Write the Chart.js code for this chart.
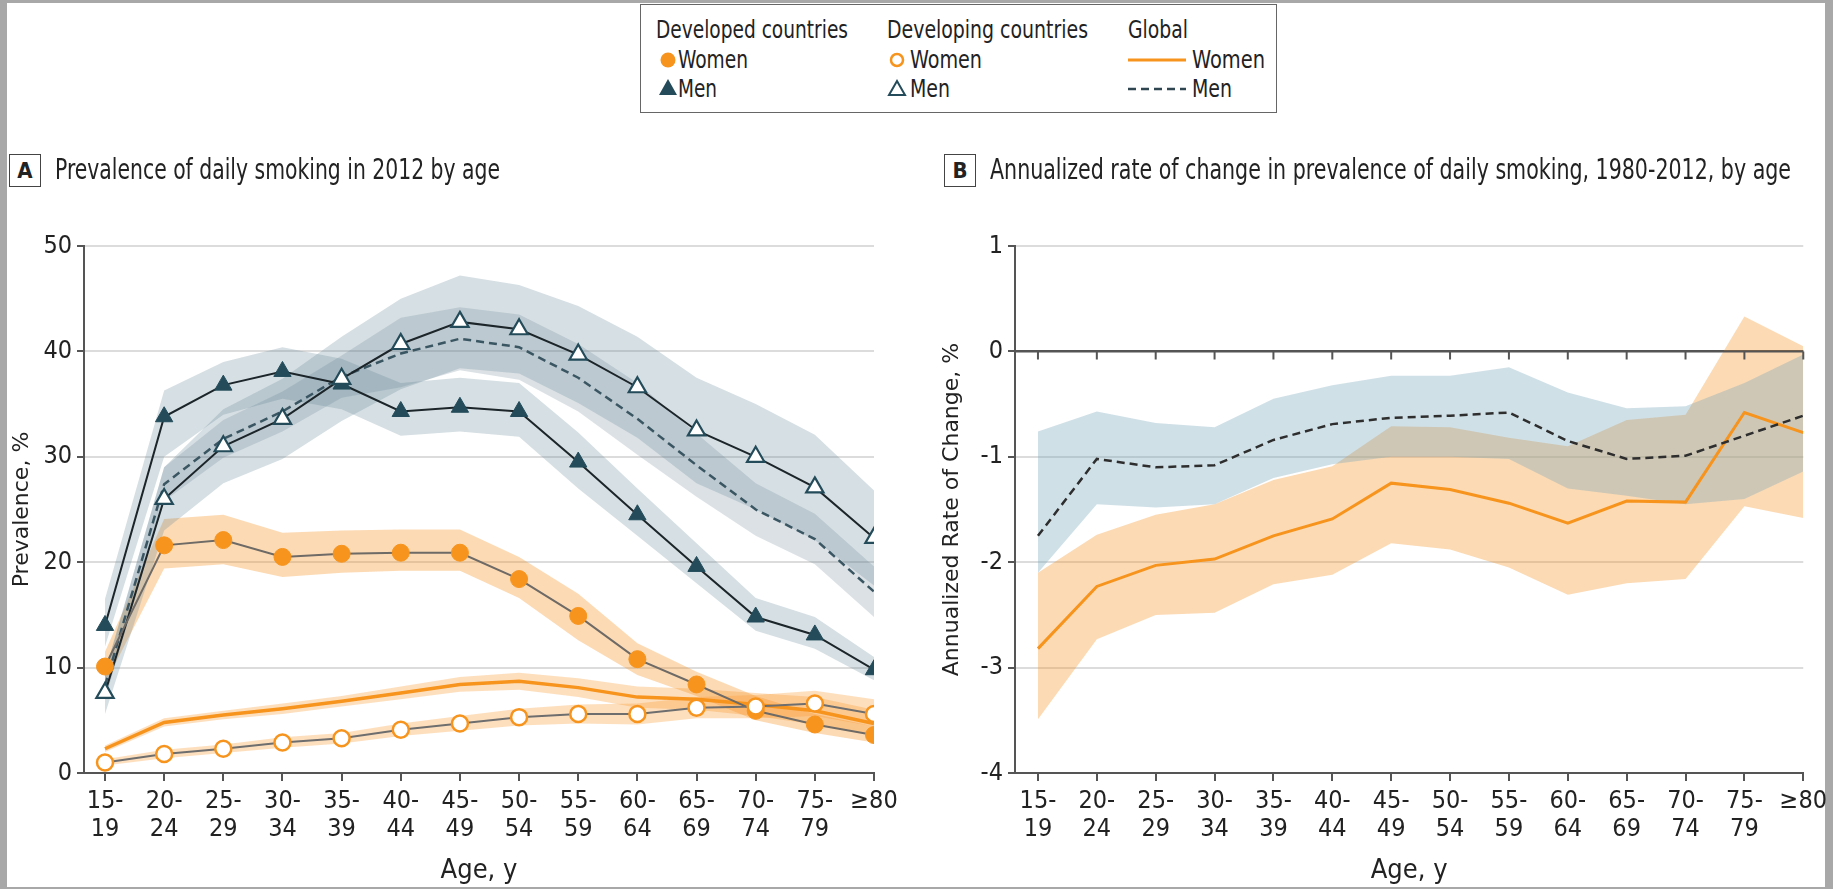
<!DOCTYPE html>
<html>
<head>
<meta charset="utf-8">
<script src="https://cdn.jsdelivr.net/npm/chart.js@4.4.1/dist/chart.umd.min.js"></script>
<style>
  html, body { margin: 0; padding: 0; width: 1833px; height: 889px; overflow: hidden; background: #a8a8a8; }
  #sheet { position: absolute; left: 7px; top: 3px; width: 1818px; height: 884px; background: #fff; }
  canvas { position: absolute; top: 0; }
  .txt { position: absolute; white-space: nowrap; color: #222; font-family: var(--narrow); transform-origin: left center; }
  .tag { position: absolute; top: 154px; width: 30px; height: 31px; border: 1.5px solid #444; font-family: var(--narrow);
         font-weight: bold; font-size: 22px; line-height: 31px; text-align: center; color: #222; background: #fff; }
  .ptitle { top: 152px; font-size: 28px; line-height: 36px; }
  #legend { position: absolute; left: 640px; top: 4px; width: 637px; height: 109px; box-sizing: border-box; border: 1.5px solid #666; background: #fff; }
  .lg { font-size: 24px; line-height: 30px; }
  svg { position: absolute; overflow: visible; }
</style>
</head>
<body>
<div id="sheet"></div>
<canvas id="cA" width="930" height="889" style="left:0"></canvas>
<canvas id="cB" width="903" height="889" style="left:930px"></canvas>

<div class="tag" style="left:9px">A</div>
<div class="txt ptitle" style="left:55px" data-w="445">Prevalence of daily smoking in 2012 by age</div>
<div class="tag" style="left:944px">B</div>
<div class="txt ptitle" style="left:990px" data-w="801">Annualized rate of change in prevalence of daily smoking, 1980-2012, by age</div>

<div id="legend"></div>
<div class="txt lg" style="left:656px;top:15px" data-w="192">Developed countries</div>
<div class="txt lg" style="left:678px;top:45px" data-w="70">Women</div>
<div class="txt lg" style="left:678px;top:74px" data-w="39">Men</div>
<div class="txt lg" style="left:887px;top:15px" data-w="201">Developing countries</div>
<div class="txt lg" style="left:910px;top:45px" data-w="72">Women</div>
<div class="txt lg" style="left:910px;top:74px" data-w="40">Men</div>
<div class="txt lg" style="left:1128px;top:15px" data-w="60">Global</div>
<div class="txt lg" style="left:1192px;top:45px" data-w="73">Women</div>
<div class="txt lg" style="left:1192px;top:74px" data-w="40">Men</div>
<svg width="1833" height="120" style="left:0;top:0">
  <circle cx="668" cy="60" r="7.5" fill="#f7941d"/>
  <polygon points="668,79 677,95 659,95" fill="#234b5a"/>
  <circle cx="897" cy="60" r="6" fill="#fff" stroke="#f7941d" stroke-width="2.5"/>
  <polygon points="897,81 905,95 889,95" fill="#fff" stroke="#234b5a" stroke-width="2"/>
  <line x1="1128" y1="60" x2="1186" y2="60" stroke="#f7941d" stroke-width="3"/>
  <line x1="1128" y1="89" x2="1186" y2="89" stroke="#2f4550" stroke-width="2.5" stroke-dasharray="8,5"/>
</svg>

<script>
// pick a condensed font if the machine has one
function fontAvailable(name) {
    const c = document.createElement('canvas').getContext('2d');
    const s = 'Developed countries 1980-2012';
    c.font = '40px monospace';
    const w0 = c.measureText(s).width;
    c.font = "40px '" + name + "', monospace";
    return c.measureText(s).width !== w0;
}
const NARROW = ['Liberation Sans Narrow', 'Arial Narrow', 'DejaVu Sans Condensed', 'Roboto Condensed'].find(fontAvailable) || 'Liberation Sans';
document.documentElement.style.setProperty('--narrow', "'" + NARROW + "', 'Liberation Sans', sans-serif");

// squeeze html labels to the widths they have in the figure
document.querySelectorAll('[data-w]').forEach(el => {
    const w = el.getBoundingClientRect().width;
    el.style.transform = 'scaleX(' + (Number(el.dataset.w) / w) + ')';
});

// ---- data ----
const ageGroups = [['15-', '19'], ['20-', '24'], ['25-', '29'], ['30-', '34'], ['35-', '39'], ['40-', '44'], ['45-', '49'],
                   ['50-', '54'], ['55-', '59'], ['60-', '64'], ['65-', '69'], ['70-', '74'], ['75-', '79'], ['≥80']];

// Panel A: prevalence 2012, %
const devdMen      = [14.0, 33.8, 36.8, 38.1, 36.9, 34.3, 34.7, 34.3, 29.5, 24.5, 19.6, 14.8, 13.1, 9.8];
const devdMenHi    = [16.5, 36.3, 39.0, 40.4, 39.3, 37.0, 37.5, 37.0, 32.3, 27.0, 21.8, 16.6, 14.8, 11.0];
const devdMenLo    = [12.0, 30.0, 34.0, 35.5, 34.5, 32.0, 32.4, 31.9, 27.0, 22.5, 18.0, 13.5, 11.8, 8.8];
const devgMen      = [7.6, 26.0, 31.0, 33.6, 37.4, 40.7, 42.8, 42.1, 39.7, 36.6, 32.5, 30.0, 27.1, 22.3];
const devgMenHi    = [9.6, 29.0, 34.5, 37.4, 41.4, 45.0, 47.2, 46.3, 44.3, 41.4, 37.5, 35.0, 32.1, 26.8];
const devgMenLo    = [5.6, 23.0, 27.5, 29.8, 33.4, 36.4, 38.4, 37.9, 35.1, 31.8, 27.5, 25.0, 22.1, 17.8];
const globMen      = [8.3, 27.4, 31.7, 34.3, 37.6, 39.8, 41.2, 40.4, 37.5, 33.6, 29.2, 25.0, 22.2, 17.2];
const globMenHi    = [9.5, 29.0, 33.5, 36.2, 39.6, 43.2, 44.2, 43.5, 40.7, 37.0, 32.2, 27.5, 24.6, 19.6];
const globMenLo    = [7.0, 25.8, 29.9, 32.4, 35.6, 36.6, 38.2, 37.3, 34.3, 30.2, 26.2, 22.5, 19.8, 14.8];
const devdWomen    = [10.1, 21.6, 22.1, 20.5, 20.8, 20.9, 20.9, 18.4, 14.9, 10.8, 8.4, 5.9, 4.6, 3.6];
const devdWomenHi  = [11.5, 24.1, 24.5, 22.8, 23.0, 23.1, 23.1, 20.5, 17.0, 12.3, 9.6, 7.3, 5.6, 4.4];
const devdWomenLo  = [8.5, 19.4, 19.8, 18.6, 19.0, 19.2, 19.2, 16.6, 12.6, 9.3, 7.3, 5.0, 3.8, 2.9];
const devgWomen    = [1.0, 1.8, 2.3, 2.9, 3.3, 4.1, 4.7, 5.3, 5.6, 5.6, 6.2, 6.3, 6.6, 5.6];
const devgWomenHi  = [1.3, 2.2, 2.7, 3.4, 3.8, 4.7, 5.4, 6.1, 6.5, 6.6, 7.2, 7.4, 7.8, 7.0];
const devgWomenLo  = [0.7, 1.4, 1.9, 2.4, 2.8, 3.5, 4.0, 4.5, 4.7, 4.6, 5.2, 5.2, 5.4, 4.4];
const globWomen    = [2.3, 4.8, 5.5, 6.1, 6.8, 7.6, 8.4, 8.7, 8.1, 7.2, 7.0, 6.5, 5.9, 4.7];
const globWomenHi  = [2.6, 5.2, 5.9, 6.6, 7.3, 8.2, 9.1, 9.5, 9.0, 8.2, 8.0, 7.6, 7.2, 6.0];
const globWomenLo  = [2.0, 4.4, 5.1, 5.6, 6.3, 7.0, 7.7, 7.9, 7.2, 6.2, 6.0, 5.4, 4.6, 3.6];
const prevTicks = [0, 10, 20, 30, 40, 50];

// Panel B: annualized rate of change 1980-2012, %
const rateMen      = [-1.75, -1.02, -1.10, -1.08, -0.84, -0.69, -0.63, -0.61, -0.58, -0.85, -1.02, -0.99, -0.80, -0.61];
const rateMenHi    = [-0.76, -0.57, -0.68, -0.72, -0.45, -0.32, -0.23, -0.23, -0.15, -0.39, -0.54, -0.52, -0.30, -0.03];
const rateMenLo    = [-2.10, -1.45, -1.48, -1.45, -1.20, -1.07, -1.00, -1.00, -1.02, -1.30, -1.37, -1.45, -1.40, -1.14];
const rateWomen    = [-2.82, -2.23, -2.03, -1.97, -1.75, -1.59, -1.25, -1.31, -1.44, -1.63, -1.42, -1.43, -0.58, -0.77];
const rateWomenHi  = [-2.10, -1.74, -1.55, -1.45, -1.22, -1.09, -0.71, -0.72, -0.82, -0.90, -0.65, -0.60, 0.33, 0.05];
const rateWomenLo  = [-3.49, -2.73, -2.50, -2.48, -2.21, -2.12, -1.82, -1.88, -2.05, -2.31, -2.20, -2.16, -1.47, -1.58];
const rateTicks = [-4, -3, -2, -1, 0, 1];

// ---- styling ----
const ORANGE = '#f7941d';
const TEAL = '#234b5a';
const AXIS = '#555';
const GRID = '#dcdcdc';
Chart.defaults.font.family = "'" + NARROW + "', 'Liberation Sans', sans-serif";
Chart.defaults.color = '#222';

const pts = arr => arr.map((v, i) => ({ x: i, y: v }));

function band(hi, lo, color) {
    return [
        { data: pts(hi), fill: '+1', backgroundColor: color, borderWidth: 0, pointRadius: 0, order: 10 },
        { data: pts(lo), fill: false, borderWidth: 0, pointRadius: 0, order: 10 }
    ];
}

function xAxis(min, height) {
    return {
        type: 'linear', min: min, max: ageGroups.length - 1,
        afterBuildTicks: s => { s.ticks = ageGroups.map((g, i) => ({ value: i })); },
        afterFit: s => { s.height = height; },
        ticks: { callback: v => ageGroups[v], font: { size: 25, lineHeight: 1.12 }, padding: 6, maxRotation: 0, autoSkip: false, color: '#222' },
        grid: { drawOnChartArea: false, drawTicks: true, tickLength: 8, tickColor: AXIS, color: AXIS, lineWidth: 2 },
        border: { display: true, color: AXIS, width: 2 },
        title: { display: true, text: 'Age, y', font: { size: 27 }, padding: { bottom: 2 }, color: '#222' }
    };
}

function yAxis(min, max, ticks, width, title, zeroDark) {
    return {
        min: min, max: max,
        afterBuildTicks: s => { s.ticks = ticks.map(v => ({ value: v })); },
        afterFit: s => { s.width = width; },
        ticks: { font: { size: 25 }, padding: 5, color: '#222' },
        grid: {
            color: c => c.tick.value === min ? 'rgba(0,0,0,0)' : (zeroDark && c.tick.value === 0 ? AXIS : GRID),
            lineWidth: 2, drawTicks: true, tickLength: 7, tickColor: AXIS
        },
        border: { display: true, color: AXIS, width: 2 },
        title: { display: true, text: title, font: { family: "'DejaVu Sans', sans-serif", size: 22 }, padding: { top: 9 }, color: '#222' }
    };
}

const common = {
    responsive: false, animation: false,
    plugins: { legend: { display: false }, tooltip: { enabled: false } },
    elements: { line: { tension: 0 } }
};

// Panel A
new Chart(document.getElementById('cA').getContext('2d'), {
    type: 'line',
    data: {
        datasets: [
            { data: pts(devgWomen), borderColor: '#6e6e6e', borderWidth: 2, pointStyle: 'circle', pointRadius: 8,
              pointBackgroundColor: '#fff', pointBorderColor: ORANGE, pointBorderWidth: 2.5, order: 1 },
            { data: pts(devdWomen), borderColor: '#6e6a66', borderWidth: 2, pointStyle: 'circle', pointRadius: 8.5,
              pointBackgroundColor: ORANGE, pointBorderColor: ORANGE, pointBorderWidth: 1, order: 1 },
            { data: pts(devgMen), borderColor: '#1c2529', borderWidth: 2, pointStyle: 'triangle', pointRadius: 10,
              pointBackgroundColor: '#fff', pointBorderColor: TEAL, pointBorderWidth: 2.2, order: 1 },
            { data: pts(devdMen), borderColor: '#1c2529', borderWidth: 2, pointStyle: 'triangle', pointRadius: 10,
              pointBackgroundColor: TEAL, pointBorderColor: TEAL, pointBorderWidth: 1, order: 1 },
            { data: pts(globWomen), borderColor: ORANGE, borderWidth: 3.5, pointRadius: 0, order: 2 },
            { data: pts(globMen), borderColor: '#3b5663', borderWidth: 2.5, borderDash: [8, 5], pointRadius: 0, order: 2 },
            ...band(devgMenHi, devgMenLo, 'rgba(105,135,150,0.27)'),
            ...band(globMenHi, globMenLo, 'rgba(90,120,135,0.22)'),
            ...band(devdMenHi, devdMenLo, 'rgba(105,135,150,0.27)'),
            ...band(devdWomenHi, devdWomenLo, 'rgba(247,150,40,0.35)'),
            ...band(devgWomenHi, devgWomenLo, 'rgba(247,150,40,0.3)'),
            ...band(globWomenHi, globWomenLo, 'rgba(247,150,40,0.3)')
        ]
    },
    options: {
        ...common,
        layout: { padding: { top: 246, right: 56, bottom: 0, left: 0 } },
        scales: {
            x: xAxis(-0.355, 116),
            y: yAxis(0, 50, prevTicks, 84, 'Prevalence, %', false)
        }
    }
});

// zero line of panel B with its tick marks
const zeroLine = {
    id: 'zeroLine',
    afterDatasetsDraw(chart) {
        const { ctx, chartArea, scales: { x, y } } = chart;
        const y0 = y.getPixelForValue(0);
        ctx.save();
        ctx.strokeStyle = AXIS;
        ctx.lineWidth = 2;
        ctx.beginPath();
        ctx.moveTo(chartArea.left, y0);
        ctx.lineTo(chartArea.right, y0);
        x.ticks.forEach(t => {
            const px = x.getPixelForValue(t.value);
            ctx.moveTo(px, y0);
            ctx.lineTo(px, y0 + 8);
        });
        ctx.stroke();
        ctx.restore();
    }
};

// Panel B
new Chart(document.getElementById('cB').getContext('2d'), {
    type: 'line',
    data: {
        datasets: [
            { data: pts(rateMen), borderColor: '#2e2e2e', borderWidth: 2.5, borderDash: [8, 5], pointRadius: 0, order: 1 },
            { data: pts(rateWomen), borderColor: ORANGE, borderWidth: 3, pointRadius: 0, order: 1 },
            ...band(rateMenHi, rateMenLo, 'rgba(120,165,185,0.35)'),
            ...band(rateWomenHi, rateWomenLo, 'rgba(247,150,40,0.35)')
        ]
    },
    options: {
        ...common,
        layout: { padding: { top: 246, right: 27, bottom: 0, left: 0 } },
        scales: {
            x: xAxis(-0.39, 116),
            y: yAxis(-4, 1, rateTicks, 85, 'Annualized Rate of Change, %', true)
        }
    },
    plugins: [zeroLine]
});
</script>
</body>
</html>
